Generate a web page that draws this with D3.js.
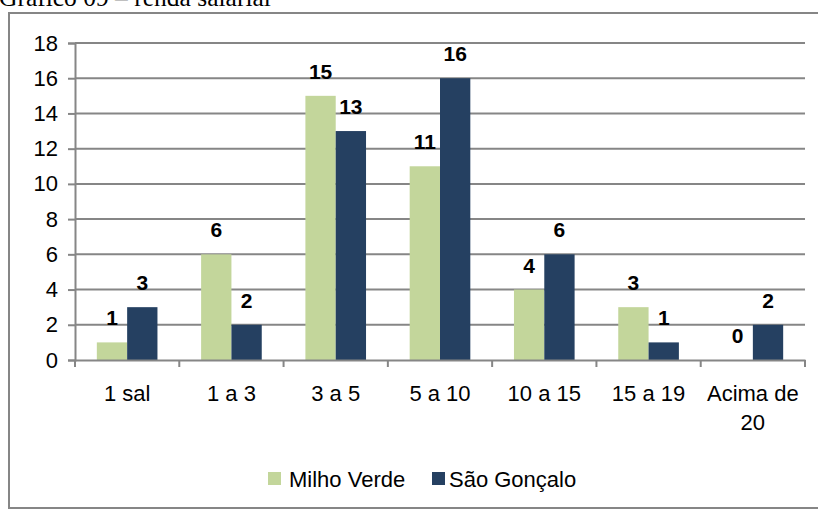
<!DOCTYPE html>
<html><head><meta charset="utf-8">
<script src="https://cdn.jsdelivr.net/npm/d3@7"></script>
<style>
body{margin:0;background:#fff;}
svg{display:block;}
</style></head><body>
<svg id="c" width="818" height="509"></svg>
<script>
const categories = ["1 sal","1 a 3","3 a 5","5 a 10","10 a 15","15 a 19","Acima de 20"];
const seriesNames = ["Milho Verde","São Gonçalo"];
const milhoVerde = [1,6,15,11,4,3,0];
const saoGoncalo = [3,2,13,16,6,1,2];
const yTicks = [0,2,4,6,8,10,12,14,16,18];
const title = "Gráfico 09 – renda salarial";
const colors = ["#c3d69b","#254061"];

const svg = d3.select("#c");
const grid = "#868686";
const F = '"Liberation Sans Narrow","Arial Narrow","Liberation Sans",Arial,sans-serif';

// title (cut at top, as in the reference)
svg.append("text").attr("x",-1).attr("y",6)
  .attr("font-family",'"Liberation Serif","Times New Roman",serif').attr("font-size",25.5)
  .attr("fill","#000").text(title);

// frame
svg.append("rect").attr("x",9).attr("y",13).attr("width",812).attr("height",495)
  .attr("fill","none").attr("stroke",grid).attr("stroke-width",2);

const x0 = 75, x1 = 805, yTop = 43, yBot = 360;
const x = d3.scaleBand().domain(categories).range([x0,x1]).paddingInner(0).paddingOuter(0);
const y = d3.scaleLinear().domain([0,18]).range([yBot,yTop]);
const xs = d3.scaleBand().domain(seriesNames).range([0,x.bandwidth()]).paddingInner(0).paddingOuter(0.72);

// gridlines
svg.append("g").selectAll("line").data(yTicks.filter(d=>d>0)).join("line")
  .attr("x1",x0).attr("x2",x1).attr("y1",d=>y(d)).attr("y2",d=>y(d))
  .attr("stroke",grid).attr("stroke-width",2);

// y axis
const ya = svg.append("g").attr("transform",`translate(${x0},0)`)
  .call(d3.axisLeft(y).tickValues(yTicks).tickSize(7).tickPadding(10));
ya.select(".domain").attr("stroke",grid).attr("stroke-width",2);
ya.selectAll(".tick line").attr("stroke",grid).attr("stroke-width",2);
ya.selectAll("text").attr("font-family",F).attr("font-size",22).attr("fill","#000");

// bars
const data = categories.map((c,i)=>({c, vals:[milhoVerde[i],saoGoncalo[i]]}));
const g = svg.append("g");
data.forEach(d=>{
  d.vals.forEach((v,j)=>{
    const bx = x(d.c)+xs(seriesNames[j]);
    g.append("rect").attr("x",bx).attr("y",y(v)).attr("width",xs.bandwidth())
      .attr("height",yBot-y(v)).attr("fill",colors[j]);
    g.append("text").attr("x",bx+xs.bandwidth()/2).attr("y",y(v)-17)
      .attr("text-anchor","middle").attr("font-family",F).attr("font-weight","bold")
      .attr("font-size",21).attr("fill","#000").text(v);
  });
});

// x axis
const xa = svg.append("g").attr("transform",`translate(0,${yBot})`)
  .call(d3.axisBottom(x).tickSize(0).tickFormat(""));
xa.select(".domain").attr("stroke",grid).attr("stroke-width",2);
const tickPos = categories.map(c=>x(c)).concat([x1]);
svg.append("g").selectAll("line").data(tickPos).join("line")
  .attr("x1",d=>d).attr("x2",d=>d).attr("y1",yBot).attr("y2",yBot+7)
  .attr("stroke",grid).attr("stroke-width",2);
categories.forEach(c=>{
  const lines = c==="Acima de 20" ? ["Acima de","20"] : [c];
  lines.forEach((l,k)=>{
    svg.append("text").attr("x",x(c)+x.bandwidth()/2).attr("y",yBot+41+k*29)
      .attr("text-anchor","middle").attr("font-family",F).attr("font-size",22)
      .attr("fill","#000").text(l);
  });
});

// legend
const leg = [{x:268,tx:289},{x:432,tx:449}];
seriesNames.forEach((n,j)=>{
  svg.append("rect").attr("x",leg[j].x).attr("y",472).attr("width",13).attr("height",13).attr("fill",colors[j]);
  svg.append("text").attr("x",leg[j].tx).attr("y",487).attr("font-family",F).attr("font-size",22)
    .attr("fill","#000").text(n);
});
</script></body></html>
